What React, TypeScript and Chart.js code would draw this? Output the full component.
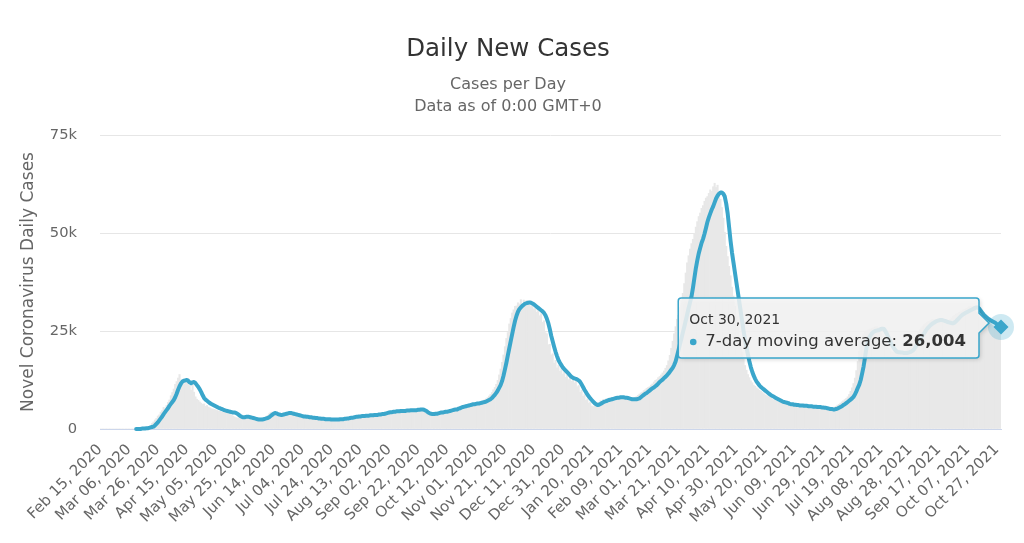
import React, { useEffect, useRef } from "react";
import { Chart, registerables } from "chart.js";

Chart.register(...registerables);

const FONT = "'DejaVu Sans', sans-serif";
const LINE_COLOR = "#3aa6cb";
const BAR_COLOR = "#e8e8e8";

const TITLE = "Daily New Cases";
const SUBTITLE = ["Cases per Day", "Data as of 0:00 GMT+0"];
const Y_TITLE = "Novel Coronavirus Daily Cases";
const SERIES_LINE = "7-day moving average";
const SERIES_BAR = "Daily Cases";

const FIRST_DAY_UTC = Date.UTC(2020, 1, 15);
const LABEL_STEP = 20;
const Y_MAX_K = 75;
const Y_STEP_K = 25;
const MONTHS = ["Jan", "Feb", "Mar", "Apr", "May", "Jun", "Jul", "Aug", "Sep", "Oct", "Nov", "Dec"];

// daily new cases, thousands (one row = 20 days, from Feb 15, 2020)
const DAILY_K = [
  0, 0, 0, 0, 0, 0, 0, 0, 0, 0, 0, 0, 0, 0, 0, 0, 0, 0, 0, 0,
  0, 0, 0, 0, 0, 0.0, 0.1, 0.0, 0.1, 0.2, 0.1, 0.3, 0.4, 0.5, 0.7, 0.9, 1.4, 1.8, 2.3, 2.7,
  3.3, 3.6, 4.3, 4.7, 5.5, 5.1, 6.0, 6.8, 7.4, 8.5, 9.3, 10.2, 11.4, 12.1, 13.0, 13.9, 12.3, 12.6, 11.5, 12.0,
  11.8, 12.9, 11.1, 9.9, 11.4, 9.4, 8.2, 7.6, 7.3, 6.9, 6.6, 6.3, 6.4, 5.8, 6.0, 5.6, 5.4, 5.2, 5.1, 5.0,
  4.9, 4.7, 4.6, 4.5, 4.4, 4.3, 4.3, 4.2, 4.1, 4.2, 3.9, 3.6, 3.3, 3.1, 2.9, 2.8, 2.9, 3.0, 3.1, 3.2,
  3.1, 3.0, 2.9, 2.8, 2.7, 2.6, 2.5, 2.4, 2.4, 2.3, 2.4, 2.5, 2.6, 2.8, 2.9, 3.2, 3.5, 3.9, 4.2, 4.3,
  4.1, 3.8, 3.6, 3.5, 3.6, 3.7, 3.9, 4.0, 4.1, 4.2, 4.1, 4.0, 3.9, 3.8, 3.7, 3.6, 3.5, 3.4, 3.3, 3.2,
  3.2, 3.1, 3.1, 3.0, 3.0, 2.9, 2.9, 2.8, 2.8, 2.7, 2.7, 2.6, 2.6, 2.6, 2.5, 2.5, 2.5, 2.4, 2.4, 2.4,
  2.4, 2.4, 2.4, 2.4, 2.5, 2.5, 2.5, 2.6, 2.6, 2.7, 2.7, 2.8, 2.9, 2.9, 3.0, 3.1, 3.1, 3.2, 3.2, 3.3,
  3.3, 3.3, 3.4, 3.4, 3.4, 3.5, 3.5, 3.5, 3.6, 3.6, 3.6, 3.7, 3.7, 3.8, 3.8, 3.9, 4.0, 4.1, 4.2, 4.3,
  4.3, 4.4, 4.4, 4.5, 4.5, 4.5, 4.6, 4.6, 4.6, 4.6, 4.7, 4.7, 4.7, 4.8, 4.8, 4.8, 4.8, 4.9, 4.9, 5.0,
  5.0, 4.9, 4.7, 4.5, 4.2, 4.0, 3.9, 3.8, 3.8, 3.9, 3.9, 4.0, 4.1, 4.2, 4.2, 4.3, 4.4, 4.4, 4.5, 4.6,
  4.7, 4.8, 4.9, 5.0, 5.0, 5.2, 5.3, 5.5, 5.6, 5.7, 5.8, 5.9, 6.0, 6.1, 6.2, 6.3, 6.3, 6.4, 6.5, 6.5,
  6.6, 6.7, 6.8, 7.0, 7.1, 7.3, 7.5, 7.7, 8.0, 8.4, 8.8, 9.3, 10.0, 10.6, 11.4, 12.4, 13.8, 15.3, 17.0, 18.9,
  21.0, 23.1, 24.6, 26.8, 28.2, 29.6, 30.4, 31.3, 31.4, 32.2, 31.9, 33.0, 32.0, 32.9, 32.3, 32.8, 31.7, 32.3, 31.2, 31.6,
  30.6, 31.2, 29.8, 30.5, 28.9, 29.4, 27.2, 27.6, 24.6, 24.3, 21.5, 21.6, 18.9, 19.2, 16.8, 17.5, 15.6, 16.3, 14.7, 15.4,
  14.0, 14.6, 13.2, 13.8, 12.6, 13.3, 12.2, 13.1, 11.8, 12.4, 10.8, 11.1, 9.4, 9.9, 8.3, 8.8, 7.3, 7.7, 6.6, 6.9,
  5.9, 5.7, 6.3, 6.1, 6.8, 6.6, 7.2, 6.9, 7.5, 7.2, 7.7, 7.4, 7.9, 7.6, 8.1, 7.8, 8.2, 7.9, 8.3, 8.0,
  8.1, 7.8, 8.0, 7.6, 7.8, 7.4, 7.7, 7.5, 7.8, 7.6, 8.0, 8.3, 8.6, 8.9, 9.2, 9.4, 9.8, 10.0, 10.4, 10.6,
  10.8, 11.2, 11.5, 12.0, 12.4, 12.6, 13.1, 13.4, 13.8, 14.3, 14.8, 15.5, 16.2, 17.4, 18.8, 20.6, 22.4, 24.3, 26.1, 28.0,
  29.0, 30.9, 32.8, 34.6, 37.1, 39.8, 42.4, 44.2, 45.9, 47.3, 48.4, 49.9, 51.5, 52.9, 54.2, 55.1, 56.3, 57.0, 58.1, 58.9,
  59.3, 60.1, 61.0, 60.6, 61.8, 62.7, 61.6, 62.2, 60.0, 58.6, 56.5, 53.8, 50.2, 46.6, 44.0, 41.5, 39.1, 36.2, 33.9, 31.3,
  28.6, 26.1, 23.5, 21.4, 19.6, 17.9, 16.2, 15.0, 13.9, 13.1, 12.3, 11.8, 11.2, 10.9, 10.5, 10.2, 9.9, 9.6, 9.3, 9.0,
  8.7, 8.5, 8.3, 8.1, 7.9, 7.6, 7.5, 7.3, 7.1, 6.9, 6.8, 6.7, 6.6, 6.5, 6.3, 6.3, 6.2, 6.1, 6.1, 6.0,
  6.1, 6.0, 6.0, 5.9, 5.9, 5.9, 5.8, 5.8, 5.8, 5.7, 5.7, 5.7, 5.6, 5.6, 5.6, 5.5, 5.5, 5.4, 5.4, 5.3,
  5.2, 5.1, 5.1, 5.0, 5.0, 5.1, 5.2, 5.4, 5.6, 5.8, 6.1, 6.3, 6.6, 6.9, 7.2, 7.5, 7.8, 8.2, 8.8, 9.6,
  10.5, 11.6, 13.0, 14.9, 17.2, 19.8, 22.4, 23.5, 24.2, 24.6, 25.0, 25.2, 25.4, 25.5, 25.6, 25.8, 26.0, 26.1, 25.8, 25.2,
  24.4, 23.6, 22.8, 22.0, 21.3, 20.6, 20.1, 19.7, 19.5, 19.5, 19.4, 19.4, 19.3, 19.4, 19.4, 19.5, 19.7, 19.9, 20.2, 20.6,
  21.2, 21.8, 22.4, 23.0, 23.5, 24.1, 24.7, 25.3, 25.8, 26.2, 26.6, 26.9, 27.2, 27.4, 27.6, 27.8, 27.9, 27.9, 27.8, 27.7,
  27.6, 27.4, 27.2, 27.1, 27.0, 27.0, 27.2, 27.5, 27.9, 28.3, 28.7, 29.0, 29.3, 29.5, 29.7, 29.9, 30.1, 30.3, 30.5, 30.7,
  30.9, 31.1, 31.2, 31.2, 30.9, 30.4, 29.8, 29.3, 28.8, 28.5, 28.2, 27.9, 27.6, 27.4, 27.2, 27.0, 26.8, 26.5, 26.2, 26.0,
  25.8, 25.6, 25.4, 25.2,
];

// 7-day moving average, thousands
const AVG7_K: (number | null)[] = [
  null, null, null, null, null, null, null, null, null, null, null, null, null, null, null, null, null, null, null, null,
  null, null, null, null, null, 0.0, 0.0, 0.0, 0.0, 0.1, 0.1, 0.1, 0.2, 0.2, 0.3, 0.4, 0.5, 0.6, 0.9, 1.3,
  1.7, 2.2, 2.7, 3.2, 3.8, 4.3, 4.8, 5.3, 5.9, 6.4, 6.9, 7.4, 8.1, 9.0, 10.0, 10.9, 11.6, 12.1, 12.3, 12.4,
  12.5, 12.3, 11.9, 11.7, 11.9, 12.0, 11.7, 11.2, 10.7, 10.1, 9.4, 8.6, 7.9, 7.5, 7.2, 6.9, 6.6, 6.4, 6.2, 6.0,
  5.8, 5.6, 5.4, 5.3, 5.1, 5.0, 4.8, 4.7, 4.6, 4.5, 4.4, 4.3, 4.2, 4.2, 4.1, 3.9, 3.6, 3.3, 3.1, 3.0,
  3.0, 3.1, 3.1, 3.1, 3.0, 2.9, 2.8, 2.7, 2.6, 2.5, 2.4, 2.4, 2.4, 2.5, 2.6, 2.7, 2.8, 3.0, 3.3, 3.6,
  3.9, 4.1, 4.0, 3.8, 3.7, 3.6, 3.6, 3.7, 3.8, 3.9, 4.0, 4.1, 4.1, 4.0, 3.9, 3.8, 3.7, 3.6, 3.5, 3.4,
  3.3, 3.2, 3.2, 3.1, 3.1, 3.0, 3.0, 2.9, 2.9, 2.8, 2.8, 2.7, 2.7, 2.6, 2.6, 2.6, 2.5, 2.5, 2.5, 2.5,
  2.4, 2.4, 2.4, 2.4, 2.4, 2.4, 2.5, 2.5, 2.5, 2.6, 2.6, 2.7, 2.7, 2.8, 2.9, 2.9, 3.0, 3.1, 3.1, 3.2,
  3.2, 3.3, 3.3, 3.3, 3.4, 3.4, 3.4, 3.5, 3.5, 3.5, 3.6, 3.6, 3.6, 3.7, 3.7, 3.8, 3.8, 3.9, 4.0, 4.1,
  4.2, 4.3, 4.3, 4.4, 4.4, 4.5, 4.5, 4.5, 4.6, 4.6, 4.6, 4.6, 4.7, 4.7, 4.7, 4.8, 4.8, 4.8, 4.8, 4.8,
  4.9, 4.9, 5.0, 5.0, 4.9, 4.7, 4.5, 4.2, 4.0, 3.9, 3.8, 3.8, 3.9, 3.9, 4.0, 4.1, 4.2, 4.2, 4.3, 4.4,
  4.4, 4.5, 4.6, 4.7, 4.8, 4.9, 5.0, 5.0, 5.2, 5.3, 5.5, 5.6, 5.7, 5.8, 5.9, 6.0, 6.1, 6.2, 6.3, 6.3,
  6.4, 6.5, 6.5, 6.6, 6.7, 6.8, 6.9, 7.0, 7.2, 7.4, 7.6, 7.9, 8.3, 8.7, 9.2, 9.8, 10.5, 11.2, 12.2, 13.6,
  15.2, 16.9, 18.8, 20.6, 22.4, 24.2, 26.0, 27.6, 28.9, 29.9, 30.6, 31.0, 31.4, 31.7, 32.0, 32.1, 32.2, 32.3, 32.2, 32.0,
  31.8, 31.5, 31.2, 30.9, 30.6, 30.3, 30.0, 29.6, 29.0, 28.1, 27.0, 25.5, 23.8, 22.4, 21.0, 19.7, 18.6, 17.6, 16.9, 16.3,
  15.7, 15.3, 14.9, 14.5, 14.1, 13.7, 13.3, 13.1, 12.9, 12.8, 12.6, 12.4, 12.0, 11.4, 10.7, 10.0, 9.4, 8.8, 8.3, 7.8,
  7.4, 7.0, 6.6, 6.3, 6.1, 6.2, 6.4, 6.6, 6.8, 7.0, 7.1, 7.3, 7.4, 7.5, 7.6, 7.7, 7.8, 7.9, 8.0, 8.0,
  8.1, 8.1, 8.1, 8.0, 8.0, 7.9, 7.8, 7.7, 7.6, 7.6, 7.6, 7.6, 7.7, 7.8, 8.1, 8.4, 8.7, 9.0, 9.2, 9.5,
  9.8, 10.1, 10.4, 10.6, 10.9, 11.2, 11.6, 12.0, 12.3, 12.6, 13.0, 13.3, 13.7, 14.1, 14.6, 15.1, 15.6, 16.3, 17.2, 18.6,
  20.1, 21.6, 23.1, 24.6, 26.1, 27.6, 29.2, 30.8, 32.3, 33.8, 36.0, 38.5, 41.0, 43.0, 44.8, 46.2, 47.5, 48.5, 49.8, 51.3,
  52.8, 54.0, 55.0, 56.0, 56.8, 57.8, 58.8, 59.5, 60.0, 60.3, 60.3, 60.0, 59.3, 57.5, 55.0, 51.5, 48.0, 45.0, 42.5, 40.0,
  37.5, 35.0, 32.5, 30.0, 27.5, 25.0, 22.8, 20.8, 19.0, 17.3, 15.8, 14.6, 13.6, 12.8, 12.1, 11.6, 11.1, 10.7, 10.4, 10.1,
  9.8, 9.5, 9.2, 8.9, 8.6, 8.4, 8.2, 8.0, 7.8, 7.6, 7.4, 7.2, 7.0, 6.9, 6.8, 6.7, 6.6, 6.4, 6.3, 6.3,
  6.2, 6.2, 6.1, 6.1, 6.0, 6.0, 6.0, 5.9, 5.9, 5.9, 5.8, 5.8, 5.8, 5.7, 5.7, 5.7, 5.6, 5.6, 5.6, 5.5,
  5.5, 5.4, 5.4, 5.3, 5.2, 5.1, 5.1, 5.0, 5.0, 5.1, 5.2, 5.4, 5.6, 5.8, 6.1, 6.3, 6.6, 6.9, 7.2, 7.5,
  7.8, 8.2, 8.8, 9.6, 10.5, 11.3, 12.5, 14.2, 16.0, 18.3, 20.8, 22.5, 23.4, 24.0, 24.5, 24.8, 25.0, 25.1, 25.2, 25.3,
  25.5, 25.6, 25.5, 25.0, 24.3, 23.5, 22.7, 21.9, 21.2, 20.6, 20.1, 19.7, 19.6, 19.6, 19.5, 19.5, 19.4, 19.4, 19.4, 19.5,
  19.6, 19.8, 20.0, 20.4, 21.0, 21.6, 22.2, 22.8, 23.3, 23.9, 24.5, 25.1, 25.6, 26.0, 26.4, 26.7, 27.0, 27.2, 27.4, 27.6,
  27.7, 27.8, 27.8, 27.7, 27.6, 27.5, 27.3, 27.2, 27.1, 27.0, 27.0, 27.2, 27.5, 27.9, 28.3, 28.7, 29.0, 29.3, 29.5, 29.7,
  29.9, 30.1, 30.3, 30.5, 30.7, 30.9, 31.0, 31.0, 30.7, 30.2, 29.7, 29.2, 28.8, 28.5, 28.2, 27.9, 27.7, 27.5, 27.3, 27.1,
  26.8, 26.5, 26.2, 26.004,
];

// one category per day, "Mon DD, YYYY"
const CATEGORIES: string[] = AVG7_K.map((_, i) => {
  const d = new Date(FIRST_DAY_UTC + i * 86400000);
  return `${MONTHS[d.getUTCMonth()]} ${String(d.getUTCDate()).padStart(2, "0")}, ${d.getUTCFullYear()}`;
});

const HOVER_INDEX = AVG7_K.length - 1;

const hoverPlugin = {
  id: "hoverTooltip",
  beforeDatasetDraw(chart: any, args: any) {
    if (args.index !== 1) return;
    const pt = chart.getDatasetMeta(1).data[HOVER_INDEX];
    if (!pt) return;
    const ctx = chart.ctx;
    ctx.save();
    ctx.beginPath();
    ctx.arc(pt.x, pt.y, 13, 0, Math.PI * 2);
    ctx.fillStyle = "rgba(58,166,203,0.25)";
    ctx.fill();
    ctx.restore();
  },
  afterDraw(chart: any) {
    const pt = chart.getDatasetMeta(1).data[HOVER_INDEX];
    if (!pt) return;
    const ctx = chart.ctx;
    const header = CATEGORIES[HOVER_INDEX];
    const label = SERIES_LINE + ": ";
    const value = Math.round((AVG7_K[HOVER_INDEX] as number) * 1000).toLocaleString("en-US");
    const bodySize = 16.5;
    ctx.save();
    ctx.font = `${bodySize}px ${FONT}`;
    const wLabel = ctx.measureText(label).width;
    ctx.font = `bold ${bodySize}px ${FONT}`;
    const wValue = ctx.measureText(value).width;
    const boxW = 27 + wLabel + wValue + 13;
    const boxH = 60;
    const right = pt.x - 22;
    const left = right - boxW;
    const top = pt.y - 29;
    const bottom = top + boxH;
    const r = 3;
    const tipX = right + 10;
    const tipY = pt.y - 4;
    const half = 10;

    const path = () => {
      ctx.beginPath();
      ctx.moveTo(left + r, top);
      ctx.lineTo(right - r, top);
      ctx.quadraticCurveTo(right, top, right, top + r);
      ctx.lineTo(right, tipY - half);
      ctx.lineTo(tipX, tipY);
      ctx.lineTo(right, tipY + half);
      ctx.lineTo(right, bottom - r);
      ctx.quadraticCurveTo(right, bottom, right - r, bottom);
      ctx.lineTo(left + r, bottom);
      ctx.quadraticCurveTo(left, bottom, left, bottom - r);
      ctx.lineTo(left, top + r);
      ctx.quadraticCurveTo(left, top, left + r, top);
      ctx.closePath();
    };

    ctx.save();
    ctx.shadowColor = "rgba(0,0,0,0.2)";
    ctx.shadowBlur = 4;
    ctx.shadowOffsetX = 1.5;
    ctx.shadowOffsetY = 1.5;
    path();
    ctx.fillStyle = "rgba(247,247,247,0.85)";
    ctx.fill();
    ctx.restore();
    path();
    ctx.lineWidth = 1.5;
    ctx.strokeStyle = LINE_COLOR;
    ctx.stroke();

    ctx.textBaseline = "middle";
    ctx.textAlign = "left";
    ctx.fillStyle = "#333333";
    ctx.font = `14px ${FONT}`;
    ctx.fillText(header, left + 11, top + 22);

    ctx.beginPath();
    ctx.arc(left + 15, top + 44, 3.3, 0, Math.PI * 2);
    ctx.fillStyle = LINE_COLOR;
    ctx.fill();

    ctx.fillStyle = "#333333";
    ctx.font = `${bodySize}px ${FONT}`;
    ctx.fillText(label, left + 27, top + 44);
    ctx.font = `bold ${bodySize}px ${FONT}`;
    ctx.fillText(value, left + 27 + wLabel, top + 44);
    ctx.restore();
  },
};

export default function App() {
  const ref = useRef<HTMLCanvasElement>(null);

  useEffect(() => {
    if (!ref.current) return;
    const chart = new Chart(ref.current, {
      type: "bar",
      data: {
        labels: CATEGORIES,
        datasets: [
          {
            type: "bar",
            label: SERIES_BAR,
            data: DAILY_K,
            backgroundColor: BAR_COLOR,
            borderWidth: 0,
            barPercentage: 1,
            categoryPercentage: 1,
            order: 1,
          } as any,
          {
            type: "line",
            label: SERIES_LINE,
            data: AVG7_K,
            borderColor: LINE_COLOR,
            backgroundColor: LINE_COLOR,
            borderWidth: 4,
            borderJoinStyle: "round",
            borderCapStyle: "round",
            tension: 0,
            spanGaps: false,
            clip: false,
            pointStyle: "rectRot",
            pointRadius: (c: any) => (c.dataIndex === HOVER_INDEX ? 7.5 : 0),
            pointBorderWidth: 0,
            pointBackgroundColor: LINE_COLOR,
            order: 0,
          } as any,
        ],
      },
      options: {
        responsive: false,
        animation: false,
        devicePixelRatio: 1,
        events: [],
        layout: { padding: { left: 0, right: 8, top: 0, bottom: 0 } },
        plugins: {
          legend: { display: false },
          tooltip: { enabled: false },
          title: {
            display: true,
            text: TITLE,
            color: "#333333",
            font: { family: FONT, size: 24.5, weight: "normal" },
            padding: { top: 35.3, bottom: 0 },
          },
          subtitle: {
            display: true,
            text: SUBTITLE,
            color: "#666666",
            font: { family: FONT, size: 16, weight: "normal", lineHeight: 1.375 },
            padding: { top: 9.3, bottom: 17 },
          },
        },
        scales: {
          x: {
            type: "category",
            offset: false,
            grid: { display: false, drawTicks: false },
            border: { display: true, color: "#ccd6eb", width: 1 },
            ticks: {
              autoSkip: false,
              maxRotation: 45,
              minRotation: 45,
              padding: 12,
              color: "#666666",
              font: { family: FONT, size: 15 },
            },
            afterBuildTicks: (axis: any) => {
              axis.ticks = axis.ticks.filter((t: any) => t.value % LABEL_STEP === 0);
            },
            afterFit: (scale: any) => {
              scale.height = 114;
            },
          },
          y: {
            type: "linear",
            position: "left",
            min: 0,
            max: Y_MAX_K,
            grid: {
              color: (c: any) => (c.tick && c.tick.value === 0 ? "#ccd6eb" : "#e6e6e6"),
              drawTicks: false,
              lineWidth: 1,
            },
            border: { display: false },
            ticks: {
              stepSize: Y_STEP_K,
              padding: 23,
              color: "#666666",
              font: { family: FONT, size: 14.7 },
              callback: (v: any) => (Number(v) === 0 ? "0" : `${v}k`),
            },
            title: {
              display: true,
              text: Y_TITLE,
              color: "#666666",
              font: { family: FONT, size: 17, weight: "normal" },
              padding: { top: 18.5, bottom: 0 },
            },
            afterFit: (scale: any) => {
              scale.width = 100;
            },
          },
          rightSpace: {
            type: "linear",
            position: "right",
            display: true,
            grid: { display: false, drawTicks: false },
            border: { display: false },
            ticks: { display: false },
            afterFit: (scale: any) => {
              scale.width = 15;
            },
          },
        },
      } as any,
      plugins: [hoverPlugin as any],
    });
    return () => chart.destroy();
  }, []);

  return (
    <div style={{ position: "absolute", left: 0, top: 0, width: 1024, height: 543, background: "#ffffff" }}>
      <canvas ref={ref} width={1024} height={543} style={{ display: "block" }} />
    </div>
  );
}
